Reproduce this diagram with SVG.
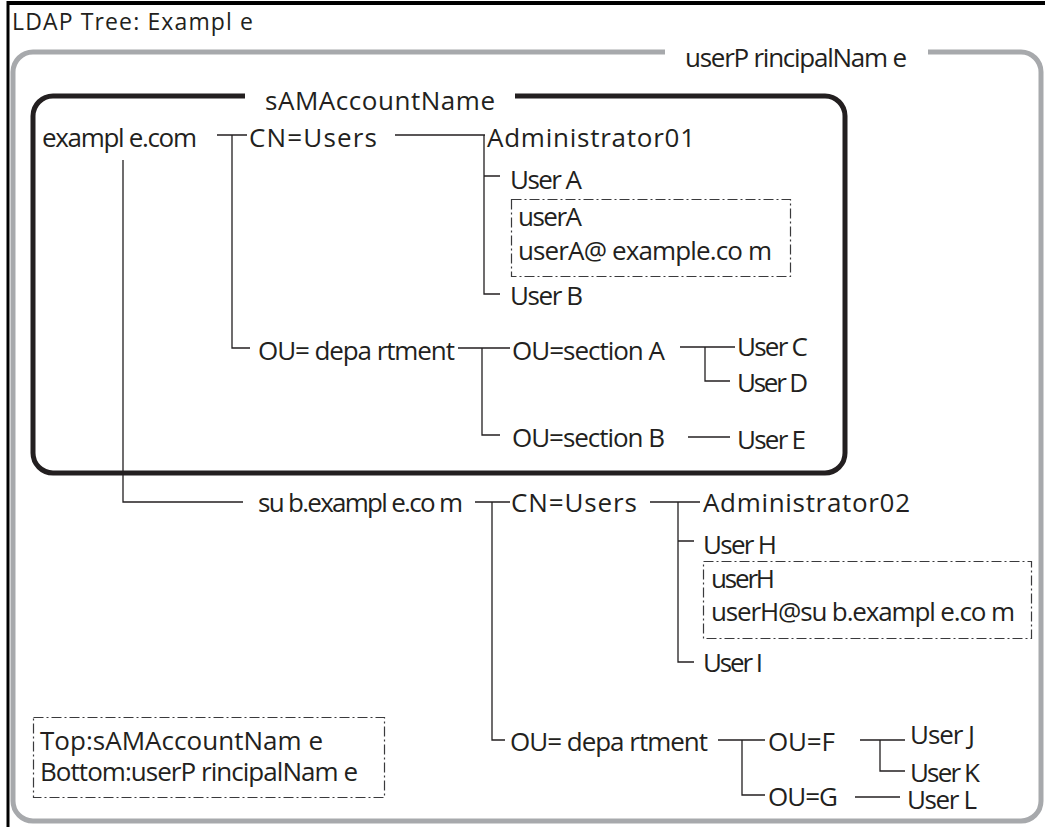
<svg xmlns="http://www.w3.org/2000/svg" width="1045" height="827" viewBox="0 0 1045 827">
<style>
text{font-family:"Open Sans","Liberation Sans",sans-serif;fill:#231f20;font-size:26px}
.title{font-size:23px}
.ln{stroke:#231f20;stroke-width:1.3;fill:none}
.dash{stroke:#3a3a3c;stroke-width:1.2;fill:none;stroke-dasharray:10 3 2 3}
</style>
<rect width="1045" height="827" fill="#fff"/>
<g id="frame">
<line x1="8" y1="3" x2="1045" y2="3" stroke="#000" stroke-width="4"/>
<line x1="8" y1="1" x2="8" y2="827" stroke="#000" stroke-width="3"/>
</g>
<g id="title"><text class="title" x="12" y="30" textLength="241">LDAP Tree: Exampl e</text></g>
<g id="upn-frame">
<path d="M665,52 H33 A20,20 0 0 0 13,72 V801 A20,20 0 0 0 33,821 H1021 A20,20 0 0 0 1041,801 V72 A20,20 0 0 0 1021,52 H928" fill="none" stroke="#a7a9ac" stroke-width="5"/>
<text x="685" y="67" textLength="222">userP rincipalNam e</text>
</g>
<g id="sam-frame">
<path d="M245,96 H53 A20,20 0 0 0 33,116 V453 A20,20 0 0 0 53,473 H825 A20,20 0 0 0 845,453 V116 A20,20 0 0 0 825,96 H515" fill="none" stroke="#231f20" stroke-width="5"/>
<text x="265" y="110" textLength="230">sAMAccountName</text>
</g>
<g id="connectors">
<path class="ln" d="M123,160 V502 H243"/>
<path class="ln" d="M217,135 H247 M232,135 V348 H250"/>
<path class="ln" d="M395,135 H485 M484,135 V294 H500 M484,176 H500"/>
<path class="ln" d="M458,348 H510 M482,348 V435 H500"/>
<path class="ln" d="M680,347 H735 M705,347 V381 H730"/>
<path class="ln" d="M688,437 H730"/>
<path class="ln" d="M475,502 H510 M492,502 V740 H505"/>
<path class="ln" d="M650,502 H700 M678,502 V662 H694 M678,541 H694"/>
<path class="ln" d="M718,740 H765 M742,740 V795 H765"/>
<path class="ln" d="M860,740 H905 M880,740 V771 H905"/>
<path class="ln" d="M855,797 H900"/>
</g>
<g id="n-example"><text x="42" y="147" textLength="155">exampl e.com</text></g>
<g id="n-cn-users"><text x="249" y="147" textLength="128">CN=Users</text></g>
<g id="n-admin01"><text x="487" y="147" textLength="208">Administrator01</text></g>
<g id="n-usera"><text x="510" y="189" textLength="72">User A</text></g>
<g id="n-usera-box">
<rect class="dash" x="511.5" y="199.5" width="279" height="77"/>
<text x="518" y="226" textLength="64">userA</text>
<text x="518" y="260" textLength="254">userA@ example.co m</text>
</g>
<g id="n-userb"><text x="510" y="305" textLength="73">User B</text></g>
<g id="n-dept1"><text x="258" y="360" textLength="197">OU= depa rtment</text></g>
<g id="n-secA"><text x="512" y="360" textLength="153">OU=section A</text></g>
<g id="n-userc"><text x="737" y="356" textLength="71">User C</text></g>
<g id="n-userd"><text x="737" y="392" textLength="71">User D</text></g>
<g id="n-secB"><text x="512" y="447" textLength="153">OU=section B</text></g>
<g id="n-usere"><text x="737" y="449" textLength="69">User E</text></g>
<g id="n-sub"><text x="258" y="512" textLength="205">su b.exampl e.co m</text></g>
<g id="n-cn-users2"><text x="511" y="512" textLength="126">CN=Users</text></g>
<g id="n-admin02"><text x="703" y="512" textLength="207">Administrator02</text></g>
<g id="n-userh"><text x="703" y="554" textLength="74">User H</text></g>
<g id="n-userh-box">
<rect class="dash" x="703.5" y="561.5" width="328" height="77"/>
<text x="711" y="588" textLength="64">userH</text>
<text x="711" y="621" textLength="304">userH@su b.exampl e.co m</text>
</g>
<g id="n-useri"><text x="703" y="672" textLength="60">User I</text></g>
<g id="n-dept2"><text x="510" y="751" textLength="198">OU= depa rtment</text></g>
<g id="n-ouf"><text x="768" y="751" textLength="67">OU=F</text></g>
<g id="n-userj"><text x="910" y="744" textLength="65">User J</text></g>
<g id="n-userk"><text x="910" y="782" textLength="70">User K</text></g>
<g id="n-oug"><text x="768" y="806" textLength="70">OU=G</text></g>
<g id="n-userl"><text x="907" y="809" textLength="70">User L</text></g>
<g id="legend">
<rect class="dash" x="33.5" y="717.5" width="351" height="80"/>
<text x="40" y="750" textLength="283">Top:sAMAccountNam e</text>
<text x="40" y="781" textLength="318">Bottom:userP rincipalNam e</text>
</g>
</svg>
